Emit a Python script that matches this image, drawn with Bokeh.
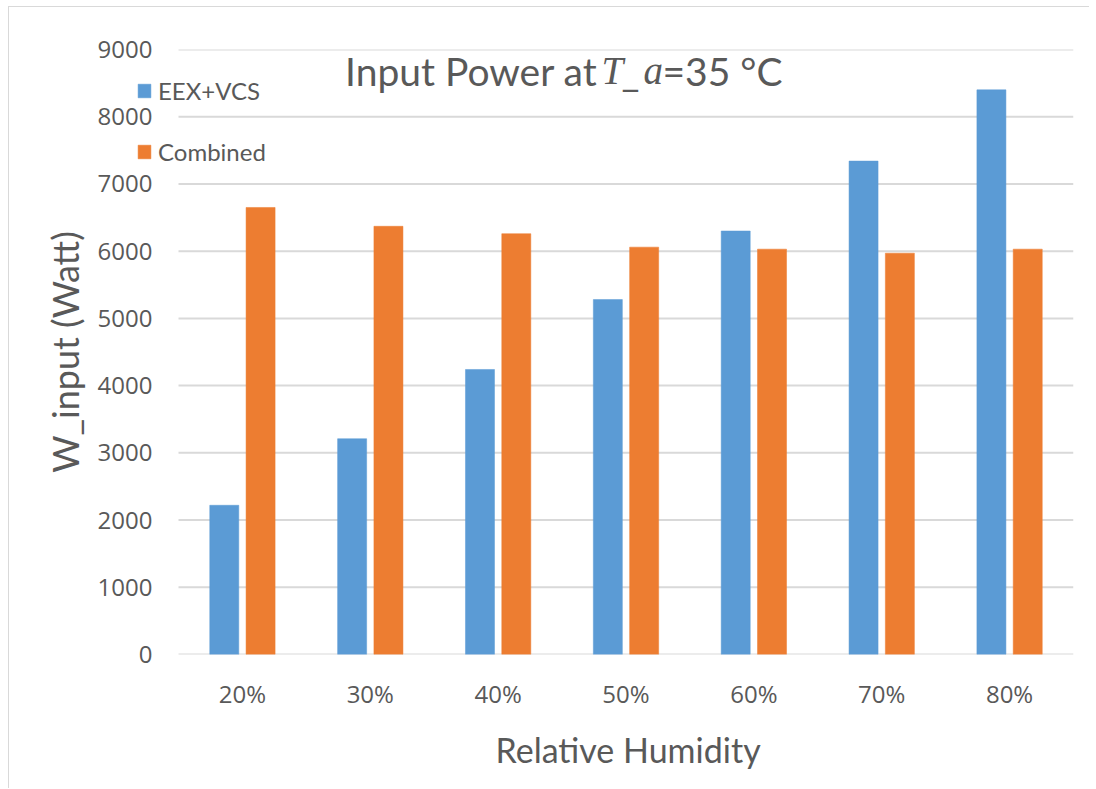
import numpy as np
from bokeh.plotting import figure
from bokeh.models import Range1d, Legend, LegendItem, Label, FixedTicker, ColumnDataSource, Title
from bokeh.transform import dodge
from bokeh.embed import file_html
from bokeh.resources import INLINE

humidity = ["20%", "30%", "40%", "50%", "60%", "70%", "80%"]
eex_vcs = [2220, 3210, 4240, 5280, 6300, 7340, 8400]
combined = [6650, 6370, 6260, 6060, 6030, 5970, 6030]
y_ticks = [0, 1000, 2000, 3000, 4000, 5000, 6000, 7000, 8000, 9000]

BLUE = "#5B9BD5"
ORANGE = "#ED7D31"
GRAY_TXT = "#595959"
GRID = "#D9D9D9"

n = len(humidity)
centers = list(np.arange(n) + 0.5)
src = ColumnDataSource(dict(x=centers, a=eex_vcs, b=combined))

# frame extends a little to the left of the first category so the legend fits
p = figure(x_range=Range1d(-0.4145, n), y_range=Range1d(0, 9000),
           width=1081, height=782, output_backend="svg", toolbar_location=None,
           min_border_left=116, min_border_right=17, min_border_top=42, min_border_bottom=135,
           margin=(6, 5, 0, 8))
p.styles = {"border-top": "1px solid #D9D9D9", "border-left": "1px solid #D9D9D9"}
p.outline_line_color = None
p.background_fill_color = "white"
p.border_fill_color = "white"
p.xgrid.grid_line_color = None
p.ygrid.grid_line_color = None

# horizontal gridlines across the category area only
p.segment(x0=0, x1=n, y0=y_ticks, y1=y_ticks, line_color=GRID, line_width=2)

r1 = p.vbar(x=dodge("x", -0.142), top="a", width=0.227, source=src,
            fill_color=BLUE, line_color=BLUE, line_width=0.5)
r2 = p.vbar(x=dodge("x", 0.142), top="b", width=0.227, source=src,
            fill_color=ORANGE, line_color=ORANGE, line_width=0.5)

p.yaxis.ticker = FixedTicker(ticks=y_ticks)
p.yaxis.axis_line_color = None
p.yaxis.major_tick_line_color = None
p.yaxis.minor_tick_line_color = None
p.yaxis.major_tick_out = 0
p.yaxis.major_tick_in = 0
p.yaxis.major_label_standoff = -27
p.yaxis.major_label_text_font = "Open Sans"
p.yaxis.major_label_text_font_size = "24px"
p.yaxis.major_label_text_color = GRAY_TXT
p.yaxis.axis_label = "W_input (Watt)"
p.yaxis.axis_label_text_font = "Lato"
p.yaxis.axis_label_text_font_style = "normal"
p.yaxis.axis_label_text_font_size = "36px"
p.yaxis.axis_label_text_color = GRAY_TXT
p.yaxis.axis_label_standoff = 8

p.xaxis.ticker = FixedTicker(ticks=centers)
p.xaxis.major_label_overrides = {c: h for c, h in zip(centers, humidity)}
p.xaxis.axis_line_color = None
p.xaxis.major_tick_line_color = None
p.xaxis.minor_tick_line_color = None
p.xaxis.major_tick_out = 0
p.xaxis.major_tick_in = 0
p.xaxis.major_label_standoff = 22
p.xaxis.major_label_text_font = "Open Sans"
p.xaxis.major_label_text_font_size = "24px"
p.xaxis.major_label_text_color = GRAY_TXT

# x-axis title centred under the category area (not the whole frame)
p.add_layout(Title(text="Relative Humidity", align="left", offset=370, vertical_align="top",
                   standoff=32, text_font="Lato", text_font_style="normal",
                   text_font_size="34px", text_color=GRAY_TXT), "below")

legend = Legend(items=[LegendItem(label="EEX+VCS", renderers=[r1]),
                       LegendItem(label="Combined", renderers=[r2])],
                location=(11, 488), orientation="vertical",
                padding=0, margin=0, spacing=32,
                glyph_width=16, glyph_height=17, label_height=28, label_standoff=6,
                label_text_font="Lato", label_text_font_size="24px", label_text_color=GRAY_TXT,
                border_line_color=None, background_fill_alpha=0)
p.add_layout(legend, "center")

TFONT = "39px"
parts = [("Input Power at", 472, "right", "Lato", "normal"),
         ("T", 476, "left", "Liberation Serif", "italic"),
         ("_", 496, "left", "Lato", "normal"),
         ("a", 518, "left", "Liberation Serif", "italic"),
         ("=35 °C", 537, "left", "Lato", "normal")]
for txt, xs, align, font, style in parts:
    p.add_layout(Label(x=xs, y=584, x_units="screen", y_units="screen", text=txt,
                       text_align=align, text_baseline="alphabetic",
                       text_font=font, text_font_style=style,
                       text_font_size=TFONT, text_color=GRAY_TXT))

open("out.html", "w").write(file_html(p, INLINE))
